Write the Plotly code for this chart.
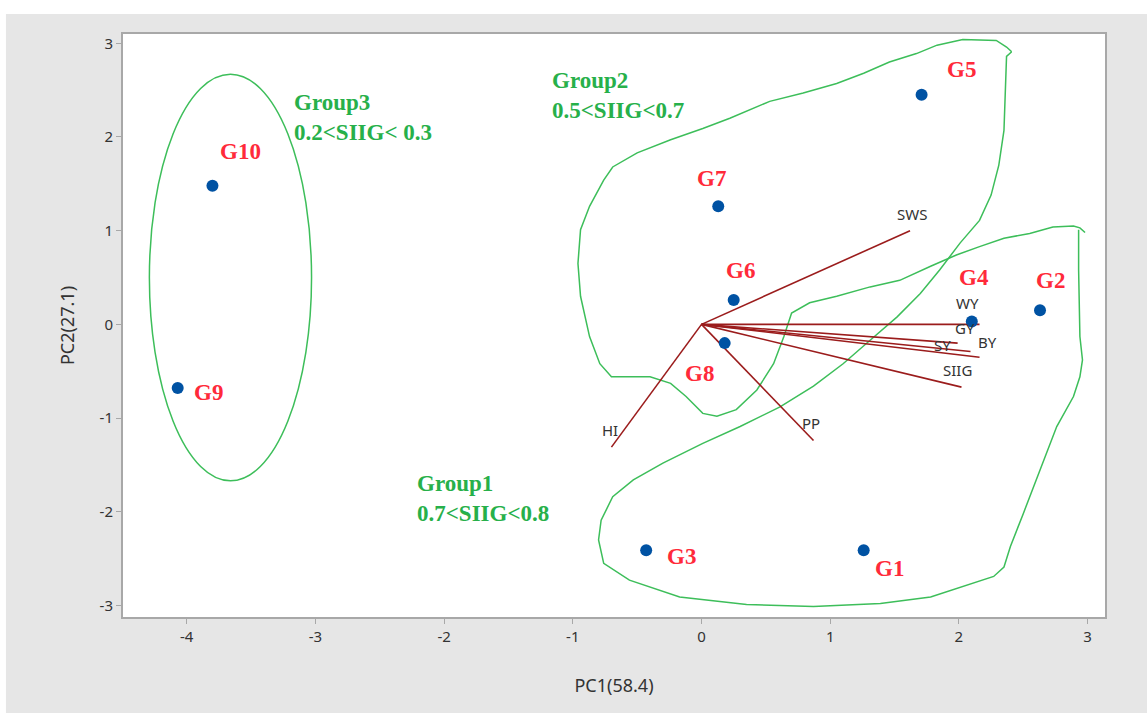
import plotly.graph_objects as go

# ---------------- data ----------------
genotypes = ["G1", "G2", "G3", "G4", "G5", "G6", "G7", "G8", "G9", "G10"]
pc1 = [1.26, 2.63, -0.43, 2.10, 1.71, 0.25, 0.13, 0.18, -4.07, -3.80]
pc2 = [-2.41, 0.15, -2.41, 0.03, 2.45, 0.26, 1.26, -0.20, -0.68, 1.48]

traits = ["SWS", "WY", "GY", "BY", "SY", "SIIG", "HI", "PP"]
load1 = [1.62, 2.16, 2.09, 2.16, 1.99, 2.02, -0.70, 0.87]
load2 = [1.00, 0.00, -0.29, -0.35, -0.20, -0.67, -1.31, -1.24]

group_texts = ["Group1<br>0.7<SIIG<0.8", "Group2<br>0.5<SIIG<0.7", "Group3<br>0.2<SIIG< 0.3"]
group_text_x = [-2.23, -1.18, -3.18]
group_text_y = [-1.86, 2.44, 2.21]

x_tick_vals = [-4, -3, -2, -1, 0, 1, 2, 3]
x_tick_text = ["-4", "-3", "-2", "-1", "0", "1", "2", "3"]
y_tick_vals = [-3, -2, -1, 0, 1, 2, 3]
y_tick_text = ["-3", "-2", "-1", "0", "1", "2", "3"]

# outline of group 2 (freehand)
g2_x = [2.41, 2.37, 2.29, 2.03, 1.83, 1.67, 1.46, 1.26, 1.05, 0.79, 0.53, 0.30, 0.22, 0.01,
        -0.24, -0.50, -0.69, -0.76, -0.87, -0.94, -0.96, -0.94, -0.87, -0.79, -0.70, -0.40,
        -0.24, -0.12, 0.01, 0.12, 0.27, 0.43, 0.56, 0.64, 0.70, 0.84, 1.05, 1.31, 1.54, 1.78,
        1.98, 2.16, 2.35, 2.55, 2.73, 2.89, 2.94, 2.98]
g2_y = [2.91, 2.96, 3.03, 3.04, 2.98, 2.89, 2.80, 2.68, 2.57, 2.47, 2.38, 2.25, 2.20, 2.09,
        1.97, 1.83, 1.68, 1.54, 1.26, 1.01, 0.65, 0.30, -0.13, -0.42, -0.56, -0.56,
        -0.63, -0.77, -0.95, -0.98, -0.91, -0.70, -0.42, -0.13, 0.12, 0.23, 0.30, 0.40, 0.47, 0.62,
        0.74, 0.83, 0.92, 0.97, 1.04, 1.05, 1.03, 0.98]

# outline of group 1 (freehand)
g1_x = [2.93, 2.93, 2.94, 2.96, 2.94, 2.89, 2.76, 2.68, 2.60, 2.50, 2.40, 2.35, 2.27, 2.11,
        1.96, 1.78, 1.39, 0.87, 0.35, -0.17, -0.56, -0.76, -0.80, -0.78, -0.69, -0.53, -0.30,
        0.01, 0.30, 0.61, 0.87, 1.10, 1.31, 1.52, 1.70, 1.85, 2.01, 2.16, 2.25, 2.31, 2.35,
        2.36, 2.37, 2.41]
g1_y = [1.01, 0.58, -0.13, -0.38, -0.56, -0.77, -1.09, -1.38, -1.66, -2.02, -2.37, -2.59, -2.69, -2.76,
        -2.83, -2.91, -2.98, -3.01, -2.99, -2.91, -2.73, -2.55, -2.30, -2.09, -1.84, -1.66, -1.48,
        -1.27, -1.09, -0.88, -0.66, -0.42, -0.17, 0.08, 0.33, 0.58, 0.87, 1.11, 1.38, 1.70, 2.07,
        2.43, 2.86, 2.91]

# group 3 ellipse bounds [x0, x1, y0, y1]
g3_ellipse = [-4.29, -3.03, -1.67, 2.67]

# ---------------- styles ----------------
pt_label_shift = {  # (xshift, yshift) in px
    "G1": (26, -18), "G2": (10, 30), "G3": (35, -6), "G4": (2, 44), "G5": (40, 25),
    "G6": (7, 30), "G7": (-7, 28), "G8": (-25, -30), "G9": (31, -4), "G10": (28, 34),
}
trait_label_shift = {
    "SWS": (2, 17), "WY": (-12, 21), "GY": (-6, 24), "BY": (8, 15),
    "SY": (-15, -2), "SIIG": (-4, 17), "HI": (-1, 17), "PP": (-2, 18),
}
GREEN_LINE = "#3DBE5A"
GREEN_TEXT = "#27B04A"
RED_TEXT = "#FF2A3A"
VEC = "#9B1C1C"

fig = go.Figure()

# group outlines
fig.add_trace(go.Scatter(x=g2_x, y=g2_y, mode="lines",
                         line=dict(color=GREEN_LINE, width=1.5), hoverinfo="skip", showlegend=False))
fig.add_trace(go.Scatter(x=g1_x, y=g1_y, mode="lines",
                         line=dict(color=GREEN_LINE, width=1.5), hoverinfo="skip", showlegend=False))
fig.add_shape(type="circle", xref="x", yref="y",
              x0=g3_ellipse[0], x1=g3_ellipse[1], y0=g3_ellipse[2], y1=g3_ellipse[3],
              line=dict(color=GREEN_LINE, width=1.5))

# loading vectors
for t, lx, ly in zip(traits, load1, load2):
    fig.add_trace(go.Scatter(x=[0, lx], y=[0, ly], mode="lines",
                             line=dict(color=VEC, width=1.6), hoverinfo="skip", showlegend=False))
    sx, sy = trait_label_shift[t]
    fig.add_annotation(x=lx, y=ly, text=t, showarrow=False, xshift=sx, yshift=sy,
                       font=dict(family="Noto Sans", size=15, color="#333333"))

# genotype points
fig.add_trace(go.Scatter(x=pc1, y=pc2, mode="markers",
                         marker=dict(color="#0052A3", size=12), showlegend=False))
for g, x, y in zip(genotypes, pc1, pc2):
    sx, sy = pt_label_shift[g]
    fig.add_annotation(x=x, y=y, text=g, showarrow=False, xshift=sx, yshift=sy,
                       font=dict(family="Liberation Serif", size=23, color=RED_TEXT, weight="bold"))

# group texts
for txt, x, y in zip(group_texts, group_text_x, group_text_y):
    fig.add_annotation(x=x, y=y, text=txt, showarrow=False, xanchor="left", yanchor="middle",
                       align="left",
                       font=dict(family="Liberation Serif", size=23, color=GREEN_TEXT, weight="bold"))

# thin white strips at the top/left of the gray panel
fig.add_shape(type="rect", xref="paper", yref="paper", x0=-0.2, x1=1.1, y0=1.0343, y1=1.2,
              fillcolor="white", line_width=0, layer="below")
fig.add_shape(type="rect", xref="paper", yref="paper", x0=-0.2, x1=-0.1192, y0=-0.3, y1=1.2,
              fillcolor="white", line_width=0, layer="below")

axis_common = dict(showline=True, linecolor="#A8A8A8", linewidth=2, mirror=True,
                   ticks="outside", ticklen=5, tickcolor="#A8A8A8", tickwidth=1,
                   showgrid=False, zeroline=False,
                   tickfont=dict(family="Noto Sans", size=15, color="#333333"))

fig.update_layout(
    width=1147, height=713,
    margin=dict(l=123, r=42, t=34, b=96),
    paper_bgcolor="#E6E6E6", plot_bgcolor="white",
    xaxis=dict(range=[-4.495, 3.135], tickvals=x_tick_vals, ticktext=x_tick_text,
               title=dict(text="PC1(58.4)", standoff=34,
                          font=dict(family="Noto Sans", size=18, color="#333333")),
               **axis_common),
    yaxis=dict(range=[-3.123, 3.099], tickvals=y_tick_vals, ticktext=y_tick_text,
               title=dict(text="PC2(27.1)", standoff=20,
                          font=dict(family="Noto Sans", size=18, color="#333333")),
               **axis_common),
)

fig.write_html("out.html")
